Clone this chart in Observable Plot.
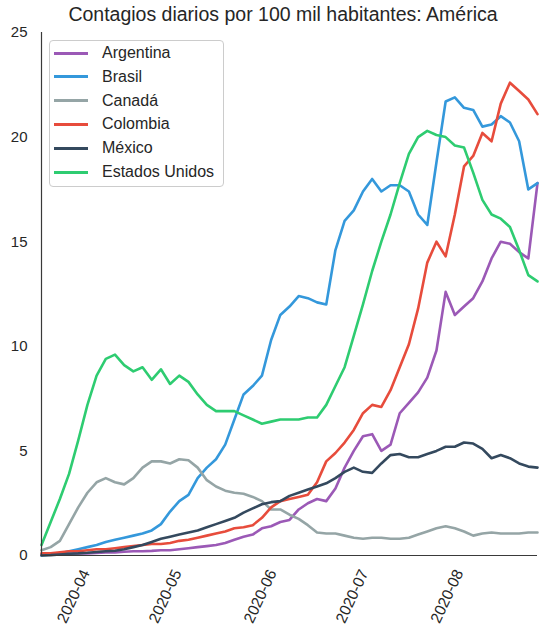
<!DOCTYPE html>
<html>
<head>
<meta charset="utf-8">
<script src="https://cdn.jsdelivr.net/npm/d3@7"></script>
<script src="https://cdn.jsdelivr.net/npm/@observablehq/plot@0.6"></script>
<style>
  html, body { margin: 0; padding: 0; background: #fff; }
  #wrap { position: relative; width: 539px; height: 633px; font-family: "Liberation Sans", Arial, sans-serif; color: #262626; }
  #title { position: absolute; left: 27px; top: 2px; width: 512px; text-align: center; font-size: 19.5px; line-height: 24px; color: #262626; white-space: nowrap; z-index: 2; }
  #chart { position: absolute; left: 0; top: 16px; z-index: 1; }
  #legend { position: absolute; left: 49px; top: 40px; width: 175px; height: 147px; border: 1px solid #cccccc; border-radius: 4px; background: rgba(255,255,255,0.85); box-sizing: border-box; z-index: 3; }
  .row { position: absolute; left: 0; height: 20px; font-size: 16px; line-height: 20px; white-space: nowrap; }
  .sw { position: absolute; left: 4px; top: 8.5px; width: 34px; height: 3px; }
  .lab { position: absolute; left: 52px; top: 0; }
</style>
</head>
<body>
<div id="wrap">
  <div id="title">Contagios diarios por 100 mil habitantes: América</div>
  <div id="chart"></div>
  <div id="legend"></div>
</div>
<script>
// Countries and colours
const countries = ["Argentina", "Brasil", "Canadá", "Colombia", "México", "Estados Unidos"];
const colors = ["#9b59b6", "#3498db", "#95a5a6", "#e74c3c", "#34495e", "#2ecc71"];

// Sample dates: every 3 days from 2020-03-15 to 2020-08-24
const dates = d3.utcDay.range(new Date(Date.UTC(2020, 2, 15)), new Date(Date.UTC(2020, 7, 25)), 3);

// Month ticks
const tickDates = ["2020-04-01", "2020-05-01", "2020-06-01", "2020-07-01", "2020-08-01"];
const yTicks = [0, 5, 10, 15, 20, 25];

// Daily cases per 100k
const argentina = [
  0.05,0.05,0.05,0.08,0.1,0.1,0.12,0.15,0.15,0.18,
  0.2,0.2,0.22,0.25,0.25,0.3,0.35,0.4,0.45,0.5,
  0.6,0.75,0.9,1.0,1.3,1.4,1.6,1.7,2.2,2.5,
  2.7,2.6,3.2,4.2,5.0,5.7,5.8,5.0,5.3,6.8,
  7.3,7.8,8.5,9.8,12.6,11.5,11.9,12.3,13.1,14.2,
  15.0,14.9,14.5,14.2,17.8
];
const brasil = [
  0.0,0.05,0.1,0.2,0.3,0.4,0.5,0.65,0.75,0.85,
  0.95,1.05,1.2,1.5,2.1,2.6,2.9,3.7,4.2,4.6,
  5.3,6.5,7.7,8.1,8.6,10.3,11.5,11.9,12.4,12.3,
  12.1,12.0,14.6,16.0,16.5,17.4,18.0,17.4,17.7,17.7,
  17.4,16.3,15.8,18.8,21.7,21.9,21.4,21.3,20.5,20.6,
  21.0,20.7,19.8,17.5,17.8
];
const canada = [
  0.25,0.4,0.7,1.5,2.3,3.0,3.5,3.7,3.5,3.4,
  3.7,4.2,4.5,4.5,4.4,4.6,4.55,4.2,3.6,3.3,
  3.1,3.0,2.95,2.8,2.6,2.2,2.2,1.95,1.75,1.45,
  1.1,1.05,1.05,0.95,0.85,0.8,0.85,0.85,0.8,0.8,
  0.85,1.0,1.15,1.3,1.4,1.3,1.15,0.95,1.05,1.1,
  1.05,1.05,1.05,1.1,1.1
];
const colombia = [
  0.1,0.1,0.15,0.2,0.2,0.25,0.3,0.3,0.35,0.4,
  0.45,0.5,0.55,0.55,0.6,0.7,0.75,0.85,0.95,1.05,
  1.15,1.3,1.35,1.45,1.8,2.3,2.6,2.7,2.8,2.9,
  3.5,4.5,4.9,5.4,6.0,6.8,7.2,7.1,7.9,9.0,
  10.1,11.8,14.0,15.0,14.3,16.3,18.6,19.1,20.2,19.8,
  21.6,22.6,22.2,21.8,21.1
];
const mexico = [
  0.0,0.02,0.05,0.08,0.1,0.13,0.17,0.2,0.23,0.3,
  0.4,0.5,0.65,0.8,0.9,1.0,1.1,1.2,1.35,1.5,
  1.65,1.8,2.05,2.25,2.45,2.55,2.6,2.85,3.0,3.15,
  3.3,3.45,3.7,4.0,4.2,4.0,3.95,4.4,4.8,4.85,
  4.7,4.7,4.85,5.0,5.2,5.2,5.4,5.35,5.1,4.65,
  4.8,4.65,4.4,4.25,4.2
];
const usa = [
  0.5,1.6,2.7,3.9,5.5,7.2,8.6,9.4,9.6,9.1,
  8.8,9.0,8.4,8.9,8.2,8.6,8.3,7.7,7.2,6.9,
  6.9,6.9,6.7,6.5,6.3,6.4,6.5,6.5,6.5,6.6,
  6.6,7.2,8.1,9.0,10.5,12.0,13.6,15.0,16.3,17.8,
  19.2,20.0,20.3,20.1,20.0,19.6,19.5,18.3,17.0,16.3,
  16.1,15.7,14.6,13.4,13.1
];

const series = [argentina, brasil, canada, colombia, mexico, usa];
const rows = [];
series.forEach((vals, k) => vals.forEach((v, i) => rows.push({date: dates[i], value: v, country: countries[k]})));

const font = "Liberation Sans, Arial, sans-serif";

const chart = Plot.plot({
  width: 539,
  height: 617,
  marginTop: 16,
  marginLeft: 41,
  marginRight: 2,
  marginBottom: 78,
  style: {fontFamily: font, background: "transparent", color: "#262626", overflow: "visible"},
  x: {type: "utc", domain: [dates[0], dates[dates.length - 1]]},
  y: {domain: [0, 25]},
  color: {domain: countries, range: colors},
  marks: [
    Plot.axisY({ticks: yTicks, tickSize: 0, tickPadding: 14, fontSize: 15, label: null, fill: "#262626"}),
    Plot.axisX({ticks: tickDates.map(d => new Date(d + "T00:00:00Z")), tickFormat: d3.utcFormat("%Y-%m"),
      tickRotate: -65, tickSize: 0, tickPadding: 15, fontSize: 15.5, label: null, dx: -8, fill: "#262626"}),
    Plot.line(rows, {x: "date", y: "value", z: "country", stroke: "country", strokeWidth: 2.6, strokeLinejoin: "round", strokeLinecap: "round"}),
    Plot.ruleX([dates[0]], {stroke: "#3a3a3a", strokeWidth: 1.2}),
    Plot.ruleY([0], {stroke: "#3a3a3a", strokeWidth: 1.2})
  ]
});
document.getElementById("chart").appendChild(chart);

// Legend
const legend = document.getElementById("legend");
countries.forEach((c, k) => {
  const row = document.createElement("div");
  row.className = "row";
  row.style.top = (2 + k * 23.8) + "px";
  const sw = document.createElement("div");
  sw.className = "sw";
  sw.style.background = colors[k];
  const lab = document.createElement("span");
  lab.className = "lab";
  lab.textContent = c;
  row.appendChild(sw);
  row.appendChild(lab);
  legend.appendChild(row);
});
</script>
</body>
</html>
